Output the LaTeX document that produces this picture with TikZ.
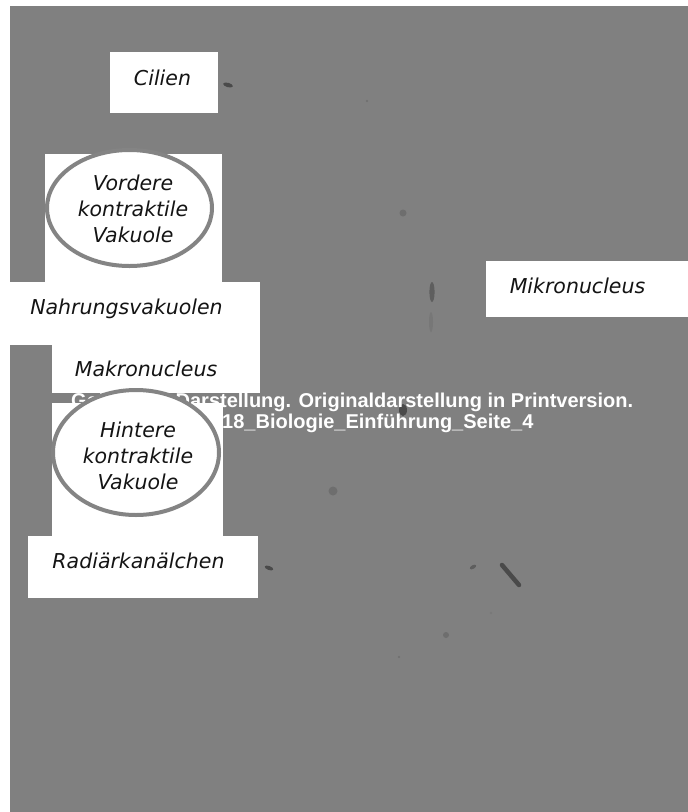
\documentclass[tikz,border=0pt]{standalone}
\usepackage{fontspec}
\newfontfamily\labfont{DejaVu Sans}
\newfontfamily\wmfont{Liberation Sans}
\definecolor{bg}{HTML}{808080}
\definecolor{ink}{HTML}{141414}
\definecolor{ringc}{HTML}{848484}
\definecolor{blobd}{HTML}{4a4a4a}
\definecolor{blobm}{HTML}{5e5e5e}
\definecolor{blobl}{HTML}{6e6e6e}
\definecolor{blobf}{HTML}{777777}
\begin{document}
\begin{tikzpicture}[x=1pt,y=-1pt,
  lab/.style={font=\labfont\itshape\fontsize{20.5}{26}\selectfont, text=ink, inner sep=0pt, align=center},
  wbox/.style={fill=white, draw=none},
  ringe/.style={draw=ringc, line width=4pt, fill=white},
  wm/.style={font=\wmfont\bfseries\fontsize{20}{21}\selectfont, text=white, inner sep=0pt}]
\useasboundingbox (0,0) rectangle (688,812);
\fill[white] (0,0) rectangle (688,812);
\fill[bg] (10,6) rectangle (688,812);
% specks of the underlying picture
\fill[blobd] (228,85) ellipse [x radius=5, y radius=2.2, rotate=-15];
\fill[blobl] (367,101) circle [radius=1.2];
\fill[blobl] (403,213) circle [radius=3.5];
\fill[blobm] (432,292) ellipse [x radius=2.6, y radius=10];
\fill[blobf] (431,322) ellipse [x radius=2, y radius=10];
\fill[blobd] (403,410) ellipse [x radius=4, y radius=6];
\fill[blobl] (333,491) circle [radius=4.5];
\fill[blobd] (269,568) ellipse [x radius=4.5, y radius=2, rotate=-20];
\fill[blobm] (473,567) ellipse [x radius=3.5, y radius=1.8, rotate=30];
\draw[blobd, line width=4.5pt, line cap=round] (502,565) -- (519,585);
\fill[blobf] (491,613) circle [radius=1.2];
\fill[blobl] (446,635) circle [radius=3];
\fill[blobl] (399,657) circle [radius=1.2];
% watermark
\node[wm, anchor=base west] (wm1) at (71,407) {Geänderte Darstellung. Originaldarstellung in Printversion.};
\node[wm, anchor=base west] (wm2) at (222,428) {18\_Biologie\_Einführung\_Seite\_4};
% label boxes
\fill[wbox] (110,52) rectangle (218,113);
\fill[wbox] (45,154) rectangle (222,282);
\fill[wbox] (10,282) rectangle (260,345);
\fill[wbox] (52,345) rectangle (260,393);
\fill[wbox] (52,403) rectangle (223,536);
\fill[wbox] (28,536) rectangle (258,598);
\fill[wbox] (486,261) rectangle (688,317);
% vacuole rings
\draw[ringe] (129.5,208) ellipse [x radius=82.5, y radius=58];
\draw[ringe] (136,452.5) ellipse [x radius=83, y radius=62.5];
% labels
\node[lab, anchor=base] (cil) at (162.5,85) {Cilien};
\node[lab, anchor=base] (vord1) at (133,190) {Vordere};
\node[lab, anchor=base] (vord2) at (133,216) {kontraktile};
\node[lab, anchor=base] (vord3) at (133,242) {Vakuole};
\node[lab, anchor=base] (nahr) at (126.5,314) {Nahrungsvakuolen};
\node[lab, anchor=base] (makro) at (146,376) {Makronucleus};
\node[lab, anchor=base] (hint1) at (138,437) {Hintere};
\node[lab, anchor=base] (hint2) at (138,463) {kontraktile};
\node[lab, anchor=base] (hint3) at (138,489) {Vakuole};
\node[lab, anchor=base] (radi) at (138.5,568) {Radiärkanälchen};
\node[lab, anchor=base] (mikro) at (577.5,293) {Mikronucleus};
\end{tikzpicture}
\end{document}
